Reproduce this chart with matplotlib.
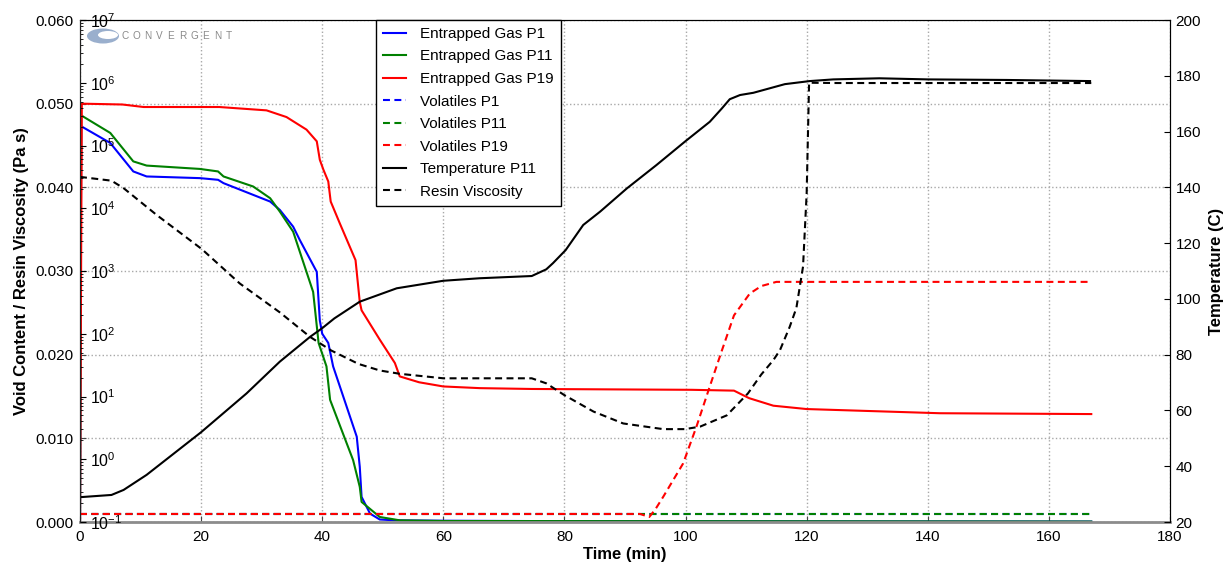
import matplotlib
matplotlib.use("Agg")
import matplotlib.pyplot as plt
from matplotlib.patches import Ellipse
from matplotlib.lines import Line2D

# ---------------- data ----------------
t_gas_p1 = [0, 0.2, 5, 8.8, 11, 19.8, 22.8, 23.7, 28.6, 31.4, 33, 35.2, 36.3, 39.1, 39.6, 40.0,
            41.0, 41.8, 45.7, 46.2, 46.5, 47.9, 49.5, 52, 60, 80, 167]
gas_p1 = [0, 0.0473, 0.0453, 0.0419, 0.0413, 0.0411, 0.0409, 0.0405, 0.0391, 0.0383, 0.0373, 0.0353,
          0.0337, 0.0299, 0.0241, 0.0225, 0.0214, 0.0186, 0.0102, 0.0066, 0.0030, 0.0010, 0.0003,
          0.0002, 0.00015, 0.0001, 0.00005]

t_gas_p11 = [0, 0.2, 5, 8.8, 11, 19.8, 22.8, 23.7, 28.6, 31.4, 33, 35.2, 38.5, 39.4, 40.7, 41.3,
             45.1, 46.2, 46.5, 49.5, 52.8, 60, 167]
gas_p11 = [0, 0.0486, 0.0465, 0.0431, 0.0426, 0.0422, 0.0419, 0.0413, 0.0401, 0.0387, 0.0371, 0.0347,
           0.0275, 0.0214, 0.0186, 0.0146, 0.0074, 0.0042, 0.0024, 0.0006, 0.0002, 0.00012, 0.00005]

t_gas_p19 = [0, 0.3, 7, 10.5, 23, 30.8, 34.1, 37.4, 39.1, 39.6, 40.2, 41.0, 41.4, 42.9, 45.5, 46.2,
             46.5, 49.5, 52, 52.8, 56, 60, 66, 74.6, 101, 108, 110.5, 114.5, 120, 142, 167]
gas_p19 = [0, 0.0500, 0.0499, 0.0496, 0.0496, 0.0492, 0.0484, 0.0469, 0.0455, 0.0433, 0.0421, 0.0407,
           0.0383, 0.0357, 0.0313, 0.0263, 0.0253, 0.0218, 0.0190, 0.0174, 0.0167, 0.0162, 0.0160,
           0.0159, 0.0158, 0.0157, 0.0148, 0.0139, 0.0135, 0.0130, 0.0129]

t_vol_p1 = [0, 167]
vol_p1 = [0.00096, 0.00096]
t_vol_p11 = [0, 167]
vol_p11 = [0.00096, 0.00096]
t_vol_p19 = [0, 92.5, 94, 95, 96.3, 99.6, 101.8, 104, 106, 108, 110.6, 112.5, 115, 120, 167]
vol_p19 = [0.00096, 0.00096, 0.0006, 0.0015, 0.0030, 0.0070, 0.0114, 0.0162, 0.0205, 0.0247,
           0.0273, 0.0282, 0.0287, 0.0287, 0.0287]

t_temp = [0, 5.2, 7.2, 11, 20, 27.5, 33, 38, 40, 42, 46.2, 52.3, 60, 66, 74.6, 77, 78.1, 80.2,
          83.1, 85.9, 90.3, 95.2, 99.9, 104, 106, 107.3, 109, 111.2, 116.4, 120.5, 124.4, 132,
          140, 153, 166.8]
temp = [28.9, 29.7, 31.5, 36.9, 52.2, 66.1, 77.5, 86.4, 89.5, 93.0, 99.0, 103.8, 106.5, 107.4,
        108.2, 110.6, 112.8, 117.5, 126.5, 131.3, 139.6, 148.0, 156.4, 163.5, 168.3, 171.6,
        173.1, 173.9, 177.0, 178.1, 178.7, 179.1, 178.7, 178.5, 178.1]

t_visc = [0, 5.2, 7.2, 12.7, 20.1, 26.4, 33, 38, 41.5, 46, 49.5, 52.8, 60, 74.6, 77, 80, 84.8,
          89.7, 96.3, 99.9, 102.4, 106.8, 110.3, 112.5, 114.5, 115.6, 117.2, 118.3, 119.4, 120,
          120.4, 125, 167]
visc = [31600, 27500, 20900, 7760, 2240, 631, 219, 89, 54, 33, 26, 23, 19.5, 19.5, 16.2, 10.5,
        5.75, 3.72, 3.02, 3.02, 3.31, 5.0, 11.2, 22.4, 38, 55, 129, 257, 1175, 17400, 1.0e6,
        9.9e5, 9.9e5]

labels = ["Entrapped Gas P1", "Entrapped Gas P11", "Entrapped Gas P19",
          "Volatiles P1", "Volatiles P11", "Volatiles P19",
          "Temperature P11", "Resin Viscosity"]
x_ticks = [0, 20, 40, 60, 80, 100, 120, 140, 160, 180]
void_ticks = [0.000, 0.010, 0.020, 0.030, 0.040, 0.050, 0.060]
temp_ticks = [20, 40, 60, 80, 100, 120, 140, 160, 180, 200]
visc_ticks = [1e-1, 1e0, 1e1, 1e2, 1e3, 1e4, 1e5, 1e6, 1e7]
logo_text = "CONVERGENT"

# ---------------- style ----------------
plt.rcParams['font.family'] = ['Liberation Sans', 'DejaVu Sans']
plt.rcParams['mathtext.default'] = 'regular'
plt.rcParams['axes.unicode_minus'] = False
plt.rcParams['lines.scale_dashes'] = False
plt.rcParams['lines.dashed_pattern'] = [5.0, 3.2]

W, H = 1230, 568
fig = plt.figure(figsize=(W / 100, H / 100), dpi=100)
ax = fig.add_axes([80 / W, 1 - 522 / H, 1090 / W, 502 / H])
ax2 = ax.twinx()
ax3 = ax.twinx()

lw = 1.5
ax.plot(t_gas_p1, gas_p1, color='blue', lw=lw)
ax.plot(t_gas_p11, gas_p11, color='green', lw=lw)
ax.plot(t_gas_p19, gas_p19, color='red', lw=lw)
ax.plot(t_vol_p1, vol_p1, color='blue', lw=lw, ls='--')
ax.plot(t_vol_p11, vol_p11, color='green', lw=lw, ls='--')
ax.plot(t_vol_p19, vol_p19, color='red', lw=lw, ls='--')
ax2.plot(t_temp, temp, color='black', lw=lw)
ax3.plot(t_visc, visc, color='black', lw=lw, ls='--')

# ---------------- axes ----------------
ax.set_xlim(0, 180)
ax.set_ylim(0, 0.06)
ax.set_xticks(x_ticks)
ax.set_yticks(void_ticks)
ax.set_yticklabels([f"{v:.3f}" for v in void_ticks])
ax.grid(True, color='#a8a8a8', ls=':', lw=1.0)
ax.tick_params(axis='both', labelsize=11, direction='in', length=4, color='#444444')
ax.tick_params(axis='y', pad=5, right=False)
ax.tick_params(axis='x', pad=6, top=False)
ax.set_xlabel("Time (min)", fontsize=12, fontweight='bold', labelpad=2)
ax.set_ylabel("Void Content / Resin Viscosity (Pa s)", fontsize=12, fontweight='bold', labelpad=4)
for s in ['top', 'right', 'left']:
    ax.spines[s].set_color('#222222')
ax.spines['bottom'].set_color('#8c8c8c')
ax.spines['bottom'].set_linewidth(2.0)

ax2.set_ylim(20, 200)
ax2.set_yticks(temp_ticks)
ax2.tick_params(axis='y', labelsize=11, direction='in', length=4, pad=4)
ax2.set_ylabel("Temperature (C)", fontsize=12, fontweight='bold', labelpad=6)
ax2.spines['bottom'].set_visible(False)
ax2.spines['left'].set_visible(False)

ax3.set_yscale('log')
ax3.set_ylim(1e-1, 1e7)
ax3.yaxis.set_ticks_position('left')
ax3.set_yticks(visc_ticks)
ax3.tick_params(axis='y', which='major', labelsize=11.5, direction='in', length=4, pad=-7.5,
                labelleft=True, labelright=False, right=False, left=True)
ax3.tick_params(axis='y', which='minor', direction='in', length=2, right=False, left=True)
for tl in ax3.get_yticklabels():
    tl.set_horizontalalignment('left')
for s in ['bottom', 'right', 'top']:
    ax3.spines[s].set_visible(False)
ax3.spines['left'].set_color('#222222')

# ---------------- legend ----------------
handles = [Line2D([], [], color='blue', lw=lw), Line2D([], [], color='green', lw=lw),
           Line2D([], [], color='red', lw=lw),
           Line2D([], [], color='blue', lw=lw, ls='--'), Line2D([], [], color='green', lw=lw, ls='--'),
           Line2D([], [], color='red', lw=lw, ls='--'),
           Line2D([], [], color='black', lw=lw), Line2D([], [], color='black', lw=lw, ls='--')]
leg = ax3.legend(handles, labels, loc='upper left', bbox_to_anchor=((376 - 80) / 1090, 1.0),
                 borderaxespad=0, fontsize=11, frameon=True, fancybox=False, shadow=False,
                 framealpha=1, edgecolor='black', handlelength=1.5, handletextpad=0.95,
                 labelspacing=0.56, borderpad=0.45)
leg.get_frame().set_linewidth(1.0)

# ---------------- logo ----------------
fig.patches.append(Ellipse((103, H - 36), 32, 15, transform=None, facecolor='#8fa6c8',
                           edgecolor='none', alpha=0.9))
fig.patches.append(Ellipse((108, H - 35), 20, 8, transform=None, facecolor='white',
                           edgecolor='none'))
for i, ch in enumerate(logo_text):
    fig.text((121 + i * 11.6) / W, 1 - 36 / H, ch, fontsize=7.2, color='#8a8a8a',
             va='center', ha='left')

fig.savefig("out.png", dpi=100)
